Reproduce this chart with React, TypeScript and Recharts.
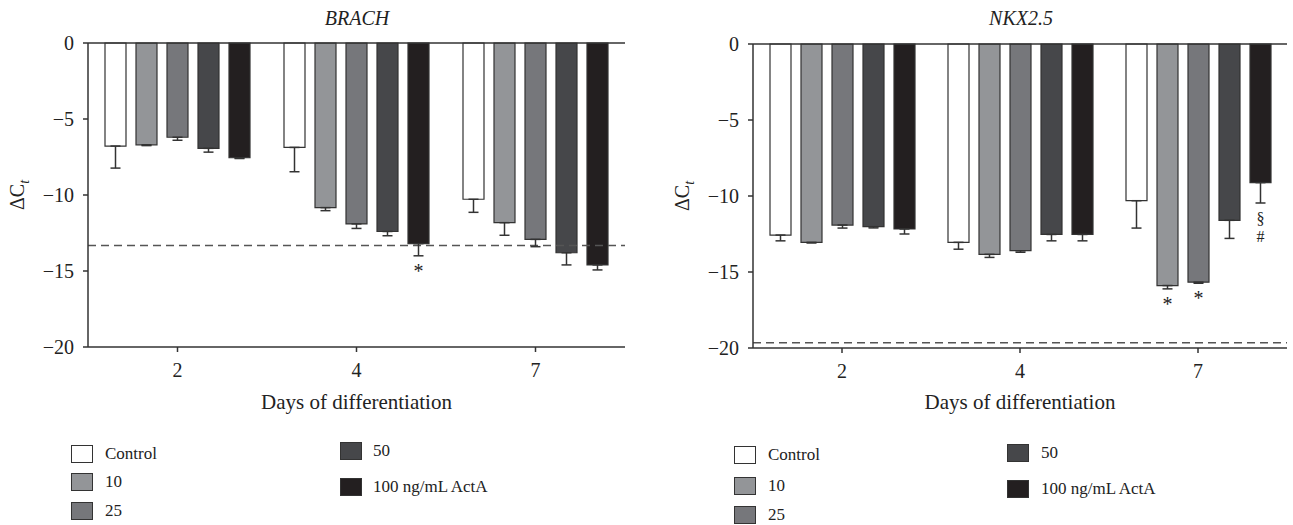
// Two-panel bar chart: BRACH and NKX2.5 ΔCt by day of differentiation
import React from "react";
import { BarChart, Bar, XAxis, YAxis, ReferenceLine, ErrorBar, LabelList } from "recharts";

const days = ["2", "4", "7"];
const seriesNames = ["Control", "10", "25", "50", "100 ng/mL ActA"];
const seriesKeys = ["control", "c10", "c25", "c50", "c100"];
const seriesFills = ["#ffffff", "#939598", "#76777b", "#46474a", "#231f20"];
const yTicks = [0, -5, -10, -15, -20];

// BRACH
const brachControl = [-6.78, -6.87, -10.28];
const brachControlErr = [1.45, 1.6, 0.86];
const brach10 = [-6.7, -10.83, -11.82];
const brach10Err = [0.05, 0.2, 0.83];
const brach25 = [-6.2, -11.9, -12.92];
const brach25Err = [0.2, 0.3, 0.48];
const brach50 = [-6.93, -12.4, -13.8];
const brach50Err = [0.25, 0.28, 0.8];
const brach100 = [-7.55, -13.2, -14.6];
const brach100Err = [0.05, 0.8, 0.33];
const brachMarks = [["", "", ""], ["", "", ""], ["", "", ""], ["", "", ""], ["", "*", ""]];
const brachBaseline = -13.33;

// NKX2.5
const nkxControl = [-12.57, -13.05, -10.31];
const nkxControlErr = [0.38, 0.45, 1.8];
const nkx10 = [-13.05, -13.84, -15.89];
const nkx10Err = [0.04, 0.2, 0.22];
const nkx25 = [-11.91, -13.6, -15.67];
const nkx25Err = [0.2, 0.1, 0.07];
const nkx50 = [-12.02, -12.53, -11.6];
const nkx50Err = [0.08, 0.42, 1.19];
const nkx100 = [-12.17, -12.53, -9.12];
const nkx100Err = [0.33, 0.42, 1.34];
const nkxMarks = [["", "", ""], ["", "", "*"], ["", "", "*"], ["", "", ""], ["", "", "§#"]];
const nkxBaseline = -19.65;

const FONT = "'Liberation Serif', 'Times New Roman', serif";
const INK = "#333333";

function buildRows(means: number[][], errs: number[][], marks: string[][]) {
  return days.map((day, i) => {
    const row: any = { day };
    seriesKeys.forEach((k, s) => {
      row[k] = means[s][i];
      row[k + "Err"] = [errs[s][i], 0];
      row[k + "Mark"] = marks[s][i];
    });
    return row;
  });
}

// significance marks stacked under the error bar, one glyph per line
const renderMark = (means: number[], errs: number[]) => (props: any) => {
  const text = String(props.value ?? "");
  if (!text) return null;
  const vb = props.viewBox ?? props;
  const { x, y, width, height } = vb;
  const i = props.index ?? 0;
  const pxPerUnit = Math.abs(height / means[i]);
  const bottom = Math.max(y, y + height) + errs[i] * pxPerUnit;
  const cx = x + width / 2;
  const single = text.length === 1;
  return (
    <g>
      {text.split("").map((ch, k) => (
        <text
          key={k}
          x={cx}
          y={bottom + (single ? 22 : 21) + k * 18}
          textAnchor="middle"
          fontFamily={FONT}
          fontSize={single ? 20 : 16}
          fill="#222"
        >
          {ch}
        </text>
      ))}
    </g>
  );
};

const yLabel = (props: any) => {
  const vb = props.viewBox;
  const cy = vb.y + vb.height / 2;
  return (
    <text transform={`translate(24, ${cy}) rotate(-90)`} textAnchor="middle" fontFamily={FONT} fontSize={20} fill="#222">
      ΔC
      <tspan fontStyle="italic" fontSize={14} dy={5}>t</tspan>
    </text>
  );
};

interface PanelProps {
  means: number[][];
  errs: number[][];
  marks: string[][];
  baseline: number;
  width: number;
  top: number;
  right: number;
  xAxisHeight: number;
}

function Panel({ means, errs, marks, baseline, width, top, right, xAxisHeight }: PanelProps) {
  const rows = buildRows(means, errs, marks);
  return (
    <BarChart
      width={width}
      height={420}
      data={rows}
      margin={{ top, right, bottom: 0, left: 0 }}
      barSize={21}
      barGap={10}
    >
      <XAxis
        dataKey="day"
        height={xAxisHeight}
        tickSize={5}
        tickMargin={11}
        stroke={INK}
        strokeWidth={1.5}
        tick={{ fontFamily: FONT, fontSize: 20, fill: "#222" }}
        label={{
          value: "Days of differentiation",
          position: "insideBottom",
          offset: 11,
          style: { fontFamily: FONT, fontSize: 21, fill: "#222", textAnchor: "middle" },
        }}
      />
      <YAxis
        type="number"
        domain={[-20, 0]}
        ticks={yTicks}
        width={88}
        tickSize={5}
        tickMargin={9}
        stroke={INK}
        strokeWidth={1.5}
        tickFormatter={(v: number) => (v < 0 ? `−${Math.abs(v)}` : `${v}`)}
        tick={{ fontFamily: FONT, fontSize: 20, fill: "#222" }}
        label={yLabel}
      />
      <ReferenceLine y={baseline} stroke="#555" strokeWidth={1.5} strokeDasharray="8 5" />
      {seriesKeys.map((k, s) => (
        <Bar
          key={k}
          dataKey={k}
          name={seriesNames[s]}
          fill={seriesFills[s]}
          stroke={INK}
          strokeWidth={1.2}
          isAnimationActive={false}
        >
          <ErrorBar dataKey={k + "Err"} direction="y" width={5} stroke={INK} strokeWidth={1.5} />
          <LabelList dataKey={k + "Mark"} content={renderMark(means[s], errs[s])} />
        </Bar>
      ))}
      <ReferenceLine y={0} stroke={INK} strokeWidth={1.5} />
    </BarChart>
  );
}

// legend layout: column and row per series
const legendCols = [0, 0, 0, 1, 1];
const legendRows = [0, 1, 2, 0, 1];

function Legend({ colX, rowY }: { colX: number[][]; rowY: number[][] }) {
  return (
    <>
      {seriesNames.map((name, s) => {
        const c = legendCols[s];
        const cy = rowY[c][legendRows[s]];
        return (
          <React.Fragment key={name}>
            <div
              style={{
                position: "absolute",
                left: colX[c][0],
                top: cy - 9,
                width: 22,
                height: 18,
                boxSizing: "border-box",
                background: seriesFills[s],
                border: `1.5px solid ${INK}`,
              }}
            />
            <div
              style={{
                position: "absolute",
                left: colX[c][1],
                top: cy - 11,
                height: 22,
                lineHeight: "22px",
                fontFamily: FONT,
                fontSize: 17,
                color: "#222",
                whiteSpace: "nowrap",
              }}
            >
              {name}
            </div>
          </React.Fragment>
        );
      })}
    </>
  );
}

const titleStyle: React.CSSProperties = {
  position: "absolute",
  top: 6,
  width: 200,
  textAlign: "center",
  fontFamily: FONT,
  fontStyle: "italic",
  fontSize: 20,
  color: "#222",
  lineHeight: "24px",
};

export default function App() {
  return (
    <div style={{ position: "absolute", left: 0, top: 0, width: 1293, height: 525, background: "#fff" }}>
      <div style={{ position: "absolute", left: 0, top: 0 }}>
        <Panel
          means={[brachControl, brach10, brach25, brach50, brach100]}
          errs={[brachControlErr, brach10Err, brach25Err, brach50Err, brach100Err]}
          marks={brachMarks}
          baseline={brachBaseline}
          width={640}
          top={43}
          right={15}
          xAxisHeight={73}
        />
      </div>
      <div style={{ position: "absolute", left: 665, top: 0 }}>
        <Panel
          means={[nkxControl, nkx10, nkx25, nkx50, nkx100]}
          errs={[nkxControlErr, nkx10Err, nkx25Err, nkx50Err, nkx100Err]}
          marks={nkxMarks}
          baseline={nkxBaseline}
          width={628}
          top={44}
          right={6}
          xAxisHeight={72}
        />
      </div>
      <div style={{ ...titleStyle, left: 257 }}>BRACH</div>
      <div style={{ ...titleStyle, left: 921 }}>NKX2.5</div>
      <Legend colX={[[71, 105], [340, 373]]} rowY={[[454, 482, 511], [451, 487]]} />
      <Legend colX={[[734, 768], [1007, 1041]]} rowY={[[455, 486, 515], [453, 489]]} />
    </div>
  );
}
